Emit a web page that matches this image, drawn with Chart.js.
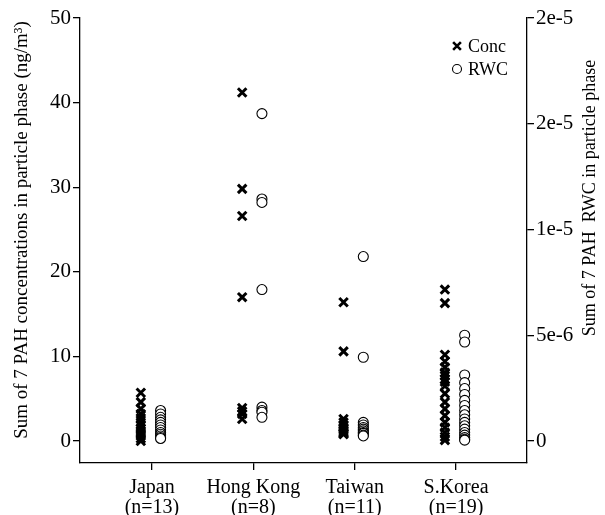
<!DOCTYPE html>
<html><head><meta charset="utf-8">
<script src="https://cdn.jsdelivr.net/npm/chart.js@4/dist/chart.umd.min.js"></script>
<style>html,body{margin:0;padding:0;background:#fff}#wrap{width:605px;height:515px}</style>
</head><body>
<div id="wrap"><canvas id="c"></canvas></div>
<script>
const categories = [["Japan","(n=13)"],["Hong Kong","(n=8)"],["Taiwan","(n=11)"],["S.Korea","(n=19)"]];
// Conc (ng/m3), left axis
const concJapan  = [5.7,4.6,3.8,3.2,2.7,2.2,1.8,1.5,1.2,0.9,0.6,0.3,0.0];
const concHK     = [41.2,29.8,26.6,17.0,3.9,3.5,3.2,2.6];
const concTaiwan = [16.4,10.6,2.6,2.2,1.9,1.6,1.4,1.2,1.0,0.9,0.8];
const concKorea  = [17.9,16.3,10.2,9.4,8.7,8.1,7.7,7.3,7.0,6.5,5.6,4.6,3.8,3.0,2.2,1.6,1.0,0.5,0.1];
// RWC, right axis
const rwcJapan  = [1.44e-6,1.28e-6,1.12e-6,1.0e-6,8.8e-7,7.6e-7,6.4e-7,5.2e-7,4.0e-7,3.2e-7,2.4e-7,1.6e-7,1.2e-7];
const rwcHK     = [1.548e-5,1.144e-5,1.128e-5,7.16e-6,1.6e-6,1.44e-6,1.36e-6,1.12e-6];
const rwcTaiwan = [8.72e-6,3.96e-6,8.8e-7,7.6e-7,6.4e-7,5.6e-7,4.8e-7,4.0e-7,3.6e-7,2.8e-7,2.4e-7];
const rwcKorea  = [5.0e-6,4.68e-6,3.12e-6,2.76e-6,2.48e-6,2.2e-6,1.92e-6,1.68e-6,1.44e-6,1.24e-6,1.04e-6,8.8e-7,7.2e-7,5.6e-7,4.0e-7,2.8e-7,1.6e-7,8e-8,4e-8];
const leftTicks = [0,10,20,30,40,50];
const rightTicks = [0,5e-6,1e-5,1.5e-5,2e-5];
const rightTickLabels = ["0","5e-6","1e-5","2e-5","2e-5"];

const concSeries = [concJapan, concHK, concTaiwan, concKorea];
const rwcSeries = [rwcJapan, rwcHK, rwcTaiwan, rwcKorea];
const concOffset = -0.11, rwcOffset = 0.085;
const toPoints = (series, off) => series.flatMap((arr, i) => arr.map(v => ({x: i + 1 + off, y: v})));

const FONT = "'Liberation Serif', 'Times New Roman', serif";

const overlay = {
  id: 'overlay',
  afterDraw(chart) {
    const ctx = chart.ctx;
    ctx.save();
    ctx.fillStyle = '#000';
    ctx.textAlign = 'center';
    ctx.textBaseline = 'middle';
    // left title
    ctx.save();
    ctx.font = '19px ' + FONT;
    ctx.translate(22, 230);
    ctx.rotate(-Math.PI / 2);
    ctx.fillText('Sum of 7 PAH concentrations in particle phase (ng/m\u00B3)', 0, 0);
    ctx.restore();
    // right title
    ctx.save();
    ctx.font = '18px ' + FONT;
    ctx.translate(590, 198);
    ctx.rotate(-Math.PI / 2);
    ctx.fillText('Sum of 7 PAH  RWC in particle phase', 0, 0);
    ctx.restore();
    // legend
    const ds = chart.data.datasets;
    const rows = [46, 69];
    ds.forEach((d, i) => {
      ctx.save();
      ctx.strokeStyle = '#000';
      ctx.fillStyle = i === 0 ? '#000' : '#fff';
      ctx.lineWidth = i === 0 ? 2.6 : 1.1;
      Chart.helpers.drawPoint(ctx, {
        pointStyle: d.pointStyle, radius: i === 0 ? 5.5 : 4.5,
        borderWidth: i === 0 ? 2.6 : 1.1, rotation: 0
      }, 457, rows[i]);
      ctx.restore();
      ctx.fillStyle = '#000';
      ctx.font = '18px ' + FONT;
      ctx.textAlign = 'left';
      ctx.fillText(d.label, 468, rows[i] + 1);
    });
    ctx.restore();
  }
};

new Chart(document.getElementById('c'), {
  type: 'scatter',
  data: {
    datasets: [
      { label: 'Conc', data: toPoints(concSeries, concOffset), yAxisID: 'y',
        pointStyle: 'crossRot', radius: 6, borderWidth: 3, borderColor: '#000', backgroundColor: '#000' },
      { label: 'RWC', data: toPoints(rwcSeries, rwcOffset), yAxisID: 'y2',
        pointStyle: 'circle', radius: 5, borderWidth: 1.1, borderColor: '#000', backgroundColor: '#fff' }
    ]
  },
  options: {
    responsive: true, maintainAspectRatio: false, animation: false,
    layout: { padding: { top: 18, left: 0, right: 0, bottom: 0 } },
    plugins: { legend: { display: false }, tooltip: { enabled: false } },
    scales: {
      x: {
        type: 'linear', min: 0.29, max: 4.7,
        afterBuildTicks: s => { s.ticks = [1,2,3,4].map(v => ({value: v})); },
        ticks: { callback: v => categories[v - 1], color: '#000', font: { family: FONT, size: 20, lineHeight: 1.0 }, padding: 8, maxRotation: 0, autoSkip: false },
        grid: { drawOnChartArea: false, drawTicks: true, tickLength: 7, color: '#000', lineWidth: 1.3 },
        border: { display: true, color: '#000', width: 1.3 },
        afterFit: s => { s.height = 52; }
      },
      y: {
        position: 'left', min: -2.6, max: 50,
        afterBuildTicks: s => { s.ticks = leftTicks.map(v => ({value: v})); },
        ticks: { color: '#000', font: { family: FONT, size: 21 }, padding: 2 },
        grid: { drawOnChartArea: false, drawTicks: true, tickLength: 7, color: '#000', lineWidth: 1.3 },
        border: { display: true, color: '#000', width: 1.3 },
        afterFit: s => { s.width = 80; }
      },
      y2: {
        position: 'right', min: -1.04e-6, max: 2e-5,
        afterBuildTicks: s => { s.ticks = rightTicks.map(v => ({value: v})); },
        ticks: { color: '#000', font: { family: FONT, size: 21 }, padding: 2,
                 callback: (v, i) => rightTickLabels[i] },
        grid: { drawOnChartArea: false, drawTicks: true, tickLength: 7, color: '#000', lineWidth: 1.3 },
        border: { display: true, color: '#000', width: 1.3 },
        afterFit: s => { s.width = 78; }
      }
    }
  },
  plugins: [overlay]
});
</script>
</body></html>
